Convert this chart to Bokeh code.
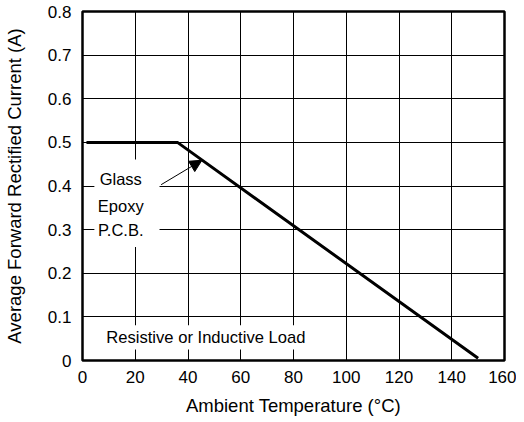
from bokeh.plotting import figure
from bokeh.models import Range1d, FixedTicker, Label, Arrow, NormalHead, BoxAnnotation
from bokeh.embed import file_html
from bokeh.resources import INLINE

# Data
temps = [1.5, 36, 150]            # Ambient temperature (°C)
current = [0.5, 0.5, 0.005]       # Average forward rectified current (A)

x_ticks = [0, 20, 40, 60, 80, 100, 120, 140, 160]
x_tick_labels = ["0", "20", "40", "60", "80", "100", "120", "140", "160"]
y_ticks = [0, 0.1, 0.2, 0.3, 0.4, 0.5, 0.6, 0.7, 0.8]
y_tick_labels = ["0", "0.1", "0.2", "0.3", "0.4", "0.5", "0.6", "0.7", "0.8"]

FONT = "Liberation Sans"

p = figure(width=516, height=418, output_backend="svg", toolbar_location=None,
           x_range=Range1d(0, 160), y_range=Range1d(0, 0.8),
           min_border_left=74, min_border_right=12, min_border_top=11, min_border_bottom=55)

p.background_fill_color = "white"
p.border_fill_color = "white"
p.outline_line_color = "black"
p.outline_line_width = 2.5
p.outline_line_alpha = 1.0

for ax, ticks, labels in ((p.xaxis[0], x_ticks, x_tick_labels), (p.yaxis[0], y_ticks, y_tick_labels)):
    ax.ticker = FixedTicker(ticks=ticks)
    ax.major_label_overrides = {t: l for t, l in zip(ticks, labels)}
    ax.axis_line_color = None
    ax.major_tick_line_color = None
    ax.minor_tick_line_color = None
    ax.major_tick_out = 0
    ax.major_tick_in = 0
    ax.major_label_text_font = FONT
    ax.major_label_text_font_size = "17px"
    ax.major_label_text_color = "black"
    ax.axis_label_text_font = FONT
    ax.axis_label_text_font_size = "18.5px"
    ax.axis_label_text_font_style = "normal"
    ax.axis_label_text_color = "black"

p.xaxis.axis_label = "Ambient Temperature (°C)"
p.yaxis.axis_label = "Average Forward Rectified Current (A)"
p.xaxis.major_label_standoff = 10
p.xaxis.axis_label_standoff = 9
p.yaxis.major_label_standoff = 11
p.yaxis.axis_label_standoff = 20

for g, ticks in ((p.xgrid[0], x_ticks), (p.ygrid[0], y_ticks)):
    g.ticker = FixedTicker(ticks=ticks)
    g.grid_line_color = "black"
    g.grid_line_width = 1
    g.grid_line_alpha = 1.0

p.line(temps, current, line_color="black", line_width=3, line_join="miter")

# white boxes behind annotation text
p.add_layout(BoxAnnotation(left=4.5, right=29.2, bottom=0.26, top=0.461,
                           fill_color="white", fill_alpha=1.0, line_color=None))
p.add_layout(BoxAnnotation(left=6.5, right=86.5, bottom=0.025, top=0.081,
                           fill_color="white", fill_alpha=1.0, line_color=None))

for txt, yv in (("Glass", 0.417), ("Epoxy", 0.355), ("P.C.B.", 0.30)):
    p.add_layout(Label(x=14.5, y=yv, text=txt, text_align="center", text_baseline="middle",
                       text_font=FONT, text_font_size="16.5px", text_color="black"))

p.add_layout(Label(x=9, y=0.053, text="Resistive or Inductive Load", text_align="left",
                   text_baseline="middle", text_font=FONT, text_font_size="16.6px", text_color="black"))

p.add_layout(Arrow(end=NormalHead(size=12, fill_color="black", line_color="black"),
                   x_start=29.8, y_start=0.403, x_end=45.3, y_end=0.459,
                   line_color="black", line_width=1))

open("out.html", "w").write(file_html(p, INLINE))
